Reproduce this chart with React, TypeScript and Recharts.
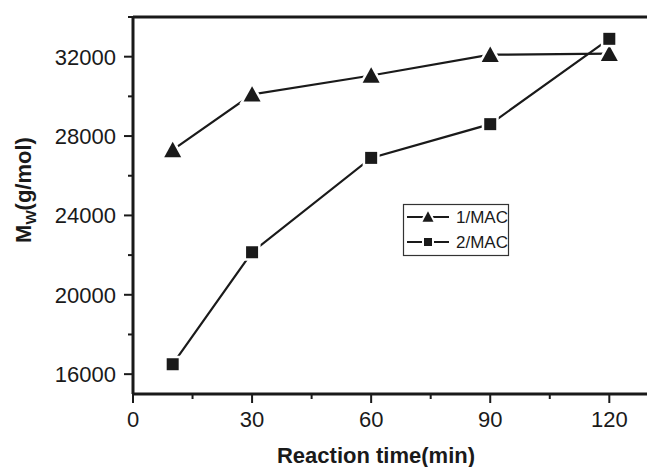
import { LineChart, Line, XAxis, YAxis, ReferenceLine } from "recharts";

// reaction time (min)
const times = [10, 30, 60, 90, 120];
// Mw (g/mol) for each catalyst system
const mwCat1 = [27300, 30100, 31050, 32100, 32150];
const mwCat2 = [16500, 22150, 26900, 28600, 32900];
const seriesNames = ["1/MAC", "2/MAC"];

const xTicks = [0, 15, 30, 45, 60, 75, 90, 105, 120];
const xMajor = [0, 30, 60, 90, 120];
const yTicks = [16000, 18000, 20000, 22000, 24000, 26000, 28000, 30000, 32000, 34000];
const yMajor = [16000, 20000, 24000, 28000, 32000];

const rows = times.map((t, i) => ({ t, a: mwCat1[i], b: mwCat2[i] }));

const INK = "#1a1a1a";
const FONT = "'Liberation Sans', Arial, sans-serif";

function triPath(cx: number, cy: number, s: number) {
  const h = s * 0.85;
  return `M${cx},${cy - h / 2 - 1} L${cx + s / 2},${cy + h / 2} L${cx - s / 2},${cy + h / 2} Z`;
}

function sqPath(cx: number, cy: number, s: number) {
  return `M${cx - s / 2},${cy - s / 2} h${s} v${s} h${-s} Z`;
}

const TriDot = (p: any) => {
  if (p.cx == null || p.cy == null) return null;
  return (
    <path
      key={p.key}
      d={triPath(p.cx, p.cy, 17)}
      fill={INK}
      stroke="#fff"
      strokeWidth={5}
      style={{ paintOrder: "stroke" }}
    />
  );
};

const SqDot = (p: any) => {
  if (p.cx == null || p.cy == null) return null;
  return (
    <path
      key={p.key}
      d={sqPath(p.cx, p.cy, 12)}
      fill={INK}
      stroke="#fff"
      strokeWidth={5}
      style={{ paintOrder: "stroke" }}
    />
  );
};

const XTick = (p: any) => {
  const major = xMajor.includes(p.payload.value);
  return (
    <g>
      <line x1={p.x} x2={p.x} y1={p.y} y2={p.y + (major ? 9 : 5)} stroke={INK} strokeWidth={2} />
      {major && (
        <text x={p.x} y={p.y + 33} textAnchor="middle" fontSize={22} fill={INK} fontFamily={FONT}>
          {p.payload.value}
        </text>
      )}
    </g>
  );
};

const YTick = (p: any) => {
  const major = yMajor.includes(p.payload.value);
  return (
    <g>
      <line x1={p.x} x2={p.x - (major ? 9 : 5)} y1={p.y} y2={p.y} stroke={INK} strokeWidth={2} />
      {major && (
        <text x={p.x - 17} y={p.y + 8} textAnchor="end" fontSize={22} fill={INK} fontFamily={FONT}>
          {p.payload.value}
        </text>
      )}
    </g>
  );
};

export default function App() {
  return (
    <div
      style={{
        position: "absolute",
        left: 0,
        top: 0,
        width: 647,
        height: 467,
        overflow: "hidden",
        background: "#fff",
      }}
    >
      <LineChart width={652} height={467} data={rows} margin={{ top: 17, right: 3, left: 0, bottom: 0 }}>
        <XAxis
          type="number"
          dataKey="t"
          domain={[0, 130]}
          ticks={xTicks}
          interval={0}
          height={73}
          tickSize={0}
          tickMargin={0}
          tickLine={false}
          tick={<XTick />}
          axisLine={{ stroke: INK, strokeWidth: 3 }}
        />
        <YAxis
          type="number"
          domain={[15000, 34000]}
          ticks={yTicks}
          interval={0}
          width={133}
          tickSize={0}
          tickMargin={0}
          tickLine={false}
          tick={<YTick />}
          axisLine={{ stroke: INK, strokeWidth: 3 }}
        />
        <ReferenceLine y={34000} stroke={INK} strokeWidth={3} />
        <Line
          type="linear"
          dataKey="a"
          name={seriesNames[0]}
          stroke={INK}
          strokeWidth={2.2}
          dot={<TriDot />}
          isAnimationActive={false}
        />
        <Line
          type="linear"
          dataKey="b"
          name={seriesNames[1]}
          stroke={INK}
          strokeWidth={2.2}
          dot={<SqDot />}
          isAnimationActive={false}
        />
      </LineChart>
      <svg
        width={647}
        height={467}
        style={{ position: "absolute", left: 0, top: 0, pointerEvents: "none" }}
      >
        <text x={376} y={463} textAnchor="middle" fontSize={22} fontWeight="bold" fill={INK} fontFamily={FONT}>
          Reaction time(min)
        </text>
        <text
          transform="translate(31,190) rotate(-90)"
          textAnchor="middle"
          fontSize={22}
          fontWeight="bold"
          fill={INK}
          fontFamily={FONT}
        >
          M<tspan fontSize={15} dy={5}>W</tspan>
          <tspan dy={-5}>(g/mol)</tspan>
        </text>
        <g>
          <rect x={403.5} y={204.5} width={105} height={51} fill="#fff" stroke="#333" strokeWidth={1.2} />
          {seriesNames.map((name, i) => {
            const cy = 217 + i * 25;
            return (
              <g key={name}>
                <line x1={407} x2={449} y1={cy} y2={cy} stroke={INK} strokeWidth={2} />
                <path
                  d={i === 0 ? triPath(428, cy, 11) : sqPath(428, cy, 8)}
                  fill={INK}
                  stroke="#fff"
                  strokeWidth={4}
                  style={{ paintOrder: "stroke" }}
                />
                <text x={456} y={cy + 6} fontSize={17} fill={INK} fontFamily={FONT}>
                  {name}
                </text>
              </g>
            );
          })}
        </g>
      </svg>
    </div>
  );
}
